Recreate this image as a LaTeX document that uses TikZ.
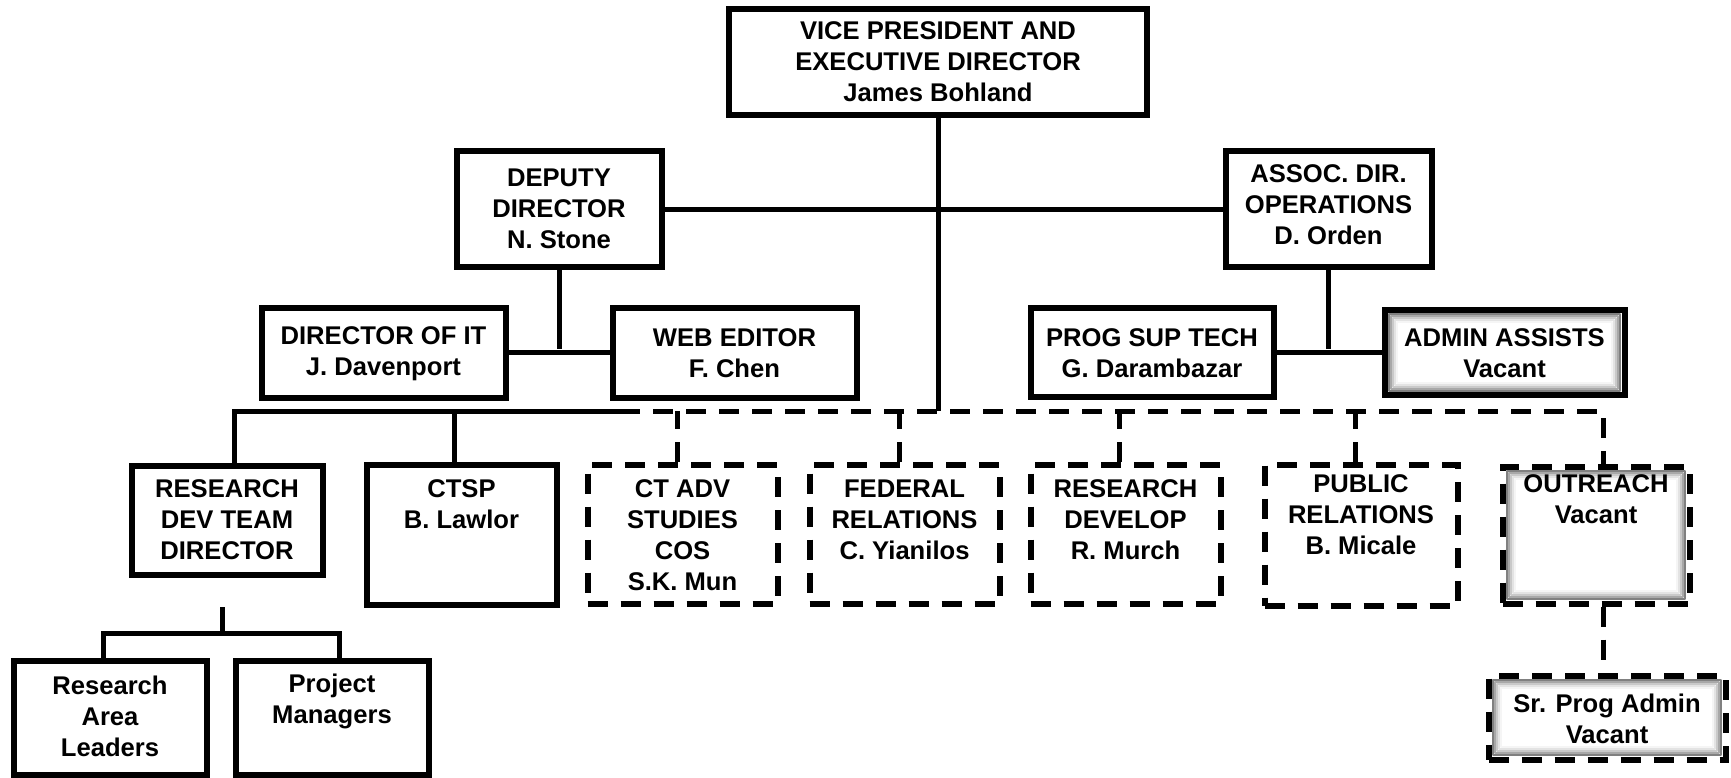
\documentclass[tikz,border=0pt]{standalone}
\usepackage{fontspec}
\setmainfont{Liberation Sans}
\begin{document}
\begin{tikzpicture}[x=1pt,y=-1pt,
  box/.style={draw=black, line width=6pt, fill=white, inner sep=0pt, rectangle},
  dbox/.style={box, dash pattern=on 20pt off 13pt},
  glow/.style={path picture={\foreach \ii/\cc in {4.2/50,6.2/34,8.2/21,10.2/11,12.2/4}{\draw[black!\cc, solid, line width=2.2pt, line join=round] ([shift={(\ii pt,-\ii pt)}]path picture bounding box.north west) rectangle ([shift={(-\ii pt,\ii pt)}]path picture bounding box.south east);}}},
  txt/.style={font=\fontsize{25.6}{31}\selectfont\bfseries, align=center, inner sep=0pt},
  conn/.style={line width=5pt},
  dconn/.style={line width=5pt, dash pattern=on 20pt off 13pt}]
\useasboundingbox[fill=white] (0,0) rectangle (1731,778);

% boxes
\node[box, minimum width=418pt, minimum height=106pt] (vp) at (938,62) {};
\node[box, minimum width=205pt, minimum height=115pt] (dep) at (559,209) {};
\node[box, minimum width=206pt, minimum height=115pt] (aso) at (1328.5,209) {};
\node[box, minimum width=244pt, minimum height=90pt] (dit) at (383.5,352.5) {};
\node[box, minimum width=244pt, minimum height=90pt] (web) at (734.5,352.5) {};
\node[box, minimum width=243pt, minimum height=89pt] (pst) at (1152,352.5) {};
\node[box, glow, minimum width=240pt, minimum height=85pt] (adm) at (1504.5,352.5) {};
\node[box, minimum width=191pt, minimum height=109pt] (rdt) at (227,520) {};
\node[box, minimum width=190pt, minimum height=140pt] (cts) at (461.5,534.5) {};
\node[dbox, minimum width=190pt, minimum height=139pt] (cta) at (682.5,534) {};
\node[dbox, minimum width=190pt, minimum height=139pt] (fed) at (904.5,534) {};
\node[dbox, minimum width=190pt, minimum height=139pt] (rdv) at (1125.5,534) {};
\node[dbox, minimum width=193pt, minimum height=141pt] (pub) at (1361,535) {};
\node[dbox, glow, minimum width=187pt, minimum height=137pt] (out) at (1596,535) {};
\node[box, minimum width=193pt, minimum height=114pt] (ral) at (110,717.5) {};
\node[box, minimum width=193pt, minimum height=114pt] (pm) at (332,717.5) {};
\node[dbox, glow, minimum width=237pt, minimum height=84pt] (spa) at (1607,717.5) {};

% texts
\node[txt] (tvp) at (938,62) {VICE PRESIDENT AND\\EXECUTIVE DIRECTOR\\James Bohland};
\node[txt] (tdep) at (559,209) {DEPUTY\\DIRECTOR\\N. Stone};
\node[txt] (taso) at (1328.5,205) {ASSOC. DIR.\\OPERATIONS\\D. Orden};
\node[txt] (tdit) at (383.5,353.5) {DIRECTOR OF IT\\J. Davenport};
\node[txt] (tweb) at (734.5,353.5) {WEB EDITOR\\F. Chen};
\node[txt] (tpst) at (1152,353.5) {PROG SUP TECH\\G. Darambazar};
\node[txt] (tadm) at (1504.5,353.5) {ADMIN ASSISTS\\Vacant};
\node[txt] (trdt) at (227,519.5) {RESEARCH\\DEV TEAM\\DIRECTOR};
\node[txt] (tcts) at (461.5,504) {CTSP\\B. Lawlor};
\node[txt] (tcta) at (682.5,535) {CT ADV\\STUDIES\\COS\\S.K. Mun};
\node[txt] (tfed) at (904.5,519.5) {FEDERAL\\RELATIONS\\C. Yianilos};
\node[txt] (trdv) at (1125.5,519.5) {RESEARCH\\DEVELOP\\R. Murch};
\node[txt] (tpub) at (1361,514.5) {PUBLIC\\RELATIONS\\B. Micale};
\node[txt] (tout) at (1596,499.5) {OUTREACH\\Vacant};
\node[txt] (tral) at (110,716) {Research\\Area\\Leaders};
\node[txt] (tpm) at (332,701) {Project\\Managers};
\node[txt] (tspa) at (1607,718.5) {Sr. Prog Admin\\Vacant};

% connectors
\coordinate (busA) at (234,411);
\coordinate (busB) at (620,411);
\coordinate (busC) at (1603,411);
\coordinate (rj) at (222,633);

\draw[conn] (dep.east) -- (aso.west);
\draw[conn] (vp.south) -- (vp.south |- busA);
\draw[conn] (dep.south) -- ++(0,79.5);
\draw[conn] (dit.east) -- (web.west);
\draw[conn] (aso.south) -- ++(0,79.5);
\draw[conn] (pst.east) -- (adm.west);

\draw[conn] (rdt.north -| busA) -- (busA) -- (busB);
\draw[conn] ([xshift=-7.5pt]cts.north) -- ([xshift=-7.5pt]cts.north |- busA);
\draw[dconn] (busB) -- (busC) -- (out.north -| busC);
\draw[dconn] ([xshift=-5.5pt]cta.north) -- ([xshift=-5.5pt]cta.north |- busA);
\draw[dconn] ([xshift=-5.5pt]fed.north) -- ([xshift=-5.5pt]fed.north |- busA);
\draw[dconn] ([xshift=-6.5pt]rdv.north) -- ([xshift=-6.5pt]rdv.north |- busA);
\draw[dconn] ([xshift=-6pt]pub.north) -- ([xshift=-6pt]pub.north |- busA);

\draw[conn] (rj) -- ++(0,-26);
\draw[conn] ([xshift=-7pt]ral.north) |- (rj) -| ([xshift=7pt]pm.north);
\draw[dconn] (out.south -| busC) -- (spa.north -| busC);
\end{tikzpicture}
\end{document}
